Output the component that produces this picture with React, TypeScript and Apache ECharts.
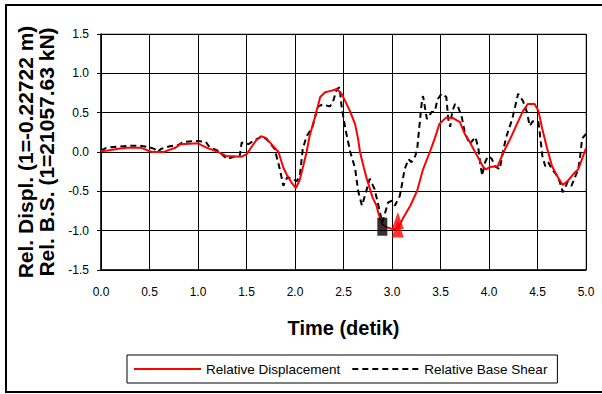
import React, { useEffect, useRef } from "react";
import * as echarts from "echarts";

const xTicks = { min: 0, max: 5, interval: 0.5 };
const yTicks = { min: -1.5, max: 1.5, interval: 0.5 };

const dispTime = [
  0.0, 0.07, 0.18, 0.27, 0.41, 0.48, 0.53, 0.65, 0.69, 0.76, 0.82, 1.0, 1.03, 1.1, 1.19, 1.29, 1.45,
  1.5, 1.55, 1.6, 1.65, 1.7, 1.77, 1.83, 1.88, 1.92, 1.97, 2.01, 2.05, 2.08, 2.12, 2.15, 2.21, 2.26,
  2.31, 2.38, 2.43, 2.48, 2.52, 2.57, 2.62, 2.65, 2.67, 2.71, 2.74, 2.8, 2.84, 2.86, 2.9, 2.95, 3.01,
  3.06, 3.11, 3.19, 3.26, 3.32, 3.39, 3.44, 3.49, 3.56, 3.63, 3.7, 3.75, 3.8, 3.87, 3.94, 3.97, 4.01,
  4.09, 4.15, 4.22, 4.29, 4.35, 4.4, 4.47, 4.51, 4.55, 4.6, 4.65, 4.71, 4.76, 4.81, 4.87, 4.92, 5.0,
];
const dispValue = [
  0.01, 0.02, 0.04, 0.055, 0.055, 0.02, 0.0, 0.0, 0.02, 0.05, 0.1, 0.11, 0.09, 0.05, 0.01, -0.05, -0.06,
  -0.03, 0.06, 0.15, 0.2, 0.18, 0.08, 0.0, -0.2, -0.3, -0.4, -0.46, -0.35, -0.2, 0.0, 0.2, 0.46, 0.7,
  0.76, 0.78, 0.8, 0.74, 0.64, 0.51, 0.35, 0.17, 0.0, -0.2, -0.34, -0.58, -0.68, -0.78, -0.92, -0.96, -0.98,
  -0.98, -0.85, -0.68, -0.49, -0.22, 0.0, 0.17, 0.36, 0.44, 0.43, 0.38, 0.23, 0.13, -0.03, -0.19, -0.22, -0.19,
  -0.18, 0.0, 0.17, 0.36, 0.52, 0.61, 0.61, 0.52, 0.29, 0.04, -0.18, -0.32, -0.42, -0.37, -0.28, -0.22, 0.05,
];

const shearTime = [
  0.0, 0.05, 0.1, 0.2, 0.3, 0.4, 0.5, 0.55, 0.58, 0.62, 0.7, 0.8, 0.85, 1.0, 1.08, 1.12, 1.2, 1.3, 1.37,
  1.43, 1.45, 1.52, 1.57, 1.66, 1.71, 1.79, 1.84, 1.88, 1.92, 1.97, 2.02, 2.05, 2.08, 2.12, 2.18, 2.21,
  2.24, 2.28, 2.36, 2.39, 2.43, 2.46, 2.48, 2.52, 2.57, 2.62, 2.65, 2.69, 2.72, 2.77, 2.82, 2.86, 2.9,
  2.96, 3.0, 3.03, 3.08, 3.1, 3.13, 3.17, 3.2, 3.24, 3.26, 3.27, 3.29, 3.31, 3.32, 3.36, 3.41, 3.44, 3.47,
  3.51, 3.56, 3.58, 3.6, 3.62, 3.65, 3.68, 3.72, 3.75, 3.8, 3.86, 3.89, 3.91, 3.93, 3.96, 3.99, 4.03,
  4.06, 4.11, 4.15, 4.18, 4.24, 4.27, 4.3, 4.35, 4.39, 4.42, 4.45, 4.51, 4.53, 4.55, 4.58, 4.61, 4.65,
  4.7, 4.73, 4.76, 4.78, 4.81, 4.85, 4.88, 4.92, 4.94, 4.96, 5.0,
];
const shearValue = [
  0.02, 0.05, 0.06, 0.07, 0.08, 0.08, 0.06, 0.04, 0.0, 0.04, 0.07, 0.09, 0.13, 0.14, 0.13, 0.06, 0.02, -0.09, -0.06,
  -0.05, 0.12, 0.1, 0.14, 0.2, 0.16, 0.04, -0.2, -0.43, -0.32, -0.34, -0.37, -0.3, 0.04, 0.2, 0.32, 0.46,
  0.58, 0.6, 0.58, 0.63, 0.8, 0.82, 0.58, 0.29, 0.0, -0.21, -0.49, -0.68, -0.56, -0.34, -0.47, -0.68, -0.9,
  -0.64, -0.62, -0.68, -0.56, -0.43, -0.22, -0.09, -0.13, -0.05, 0.04, 0.17, 0.42, 0.67, 0.71, 0.42, 0.51, 0.51, 0.67,
  0.74, 0.7, 0.42, 0.32, 0.51, 0.61, 0.58, 0.44, 0.25, 0.1, 0.19, 0.05, -0.15, -0.3, -0.13, -0.05, -0.09,
  -0.18, -0.22, 0.04, 0.2, 0.42, 0.58, 0.74, 0.65, 0.51, 0.33, 0.39, 0.38, 0.17, -0.05, -0.18, -0.13, -0.22,
  -0.3, -0.38, -0.51, -0.47, -0.38, -0.43, -0.34, -0.22, -0.05, 0.17, 0.23,
];

const shearPeak = [[2.9, -0.95]];
const dispPeak = [
  [3.06, -0.87],
  [3.06, -0.98],
];

const dispName = "Relative Displacement";
const shearName = "Relative Base Shear";
const xTitle = "Time (detik)";
const yTitle = "Rel. Displ. (1=-0.22722 m)\nRel. B.S. (1=21057.63 kN)";

const FONT = "'Liberation Sans', Arial, sans-serif";

const zip = (t: number[], v: number[]) => t.map((x, i) => [x, v[i]]);

export default function App() {
  const ref = useRef<HTMLDivElement>(null);
  useEffect(() => {
    if (!ref.current) return;
    const chart = echarts.init(ref.current, null, { renderer: "svg" });
    chart.setOption({
      animation: false,
      backgroundColor: "#fff",
      grid: {
        left: 101,
        top: 34,
        width: 485,
        height: 236,
        show: true,
        borderColor: "#808080",
        borderWidth: 1,
        containLabel: false,
      },
      xAxis: {
        type: "value",
        min: xTicks.min,
        max: xTicks.max,
        interval: xTicks.interval,
        name: xTitle,
        nameLocation: "middle",
        nameGap: 48,
        nameTextStyle: { fontSize: 20, fontWeight: "bold", color: "#000", fontFamily: FONT },
        axisLine: { show: true, onZero: false, lineStyle: { color: "#000", width: 1.5 } },
        axisTick: { show: false },
        axisLabel: {
          color: "#000",
          fontSize: 12,
          fontFamily: FONT,
          margin: 16,
          formatter: (v: number) => v.toFixed(1),
        },
        splitLine: { show: true, lineStyle: { color: "#000", width: 1 } },
      },
      yAxis: {
        type: "value",
        min: yTicks.min,
        max: yTicks.max,
        interval: yTicks.interval,
        name: yTitle,
        nameLocation: "middle",
        nameRotate: 90,
        nameGap: 44,
        nameTextStyle: {
          fontSize: 21,
          fontWeight: "bold",
          color: "#000",
          fontFamily: FONT,
          lineHeight: 21,
          align: "center",
        },
        axisLine: { show: true, lineStyle: { color: "#000", width: 1.5 } },
        axisTick: { show: true, inside: false, length: 4, lineStyle: { color: "#000" } },
        axisLabel: {
          color: "#000",
          fontSize: 12,
          fontFamily: FONT,
          margin: 12,
          formatter: (v: number) => v.toFixed(1),
        },
        splitLine: { show: true, lineStyle: { color: "#000", width: 1 } },
      },
      legend: {
        data: [dispName, shearName],
        left: 127,
        top: 355,
        padding: [7, 10, 7, 6],
        itemWidth: 67,
        itemHeight: 12,
        itemGap: 11,
        borderColor: "#000",
        borderWidth: 1,
        borderRadius: 0,
        itemStyle: { opacity: 0 },
        textStyle: { fontSize: 13.5, color: "#000", fontFamily: FONT },
      },
      graphic: [
        {
          type: "rect",
          shape: { x: 6, y: 5, width: 640, height: 387 },
          style: { fill: "none", stroke: "#000", lineWidth: 2 },
          silent: true,
        },
      ],
      series: [
        {
          name: dispName,
          type: "line",
          data: zip(dispTime, dispValue),
          symbol: "none",
          showSymbol: false,
          lineStyle: { color: "#ff0000", width: 2 },
          itemStyle: { color: "#ff0000" },
          z: 3,
        },
        {
          name: shearName,
          type: "line",
          data: zip(shearTime, shearValue),
          symbol: "none",
          showSymbol: false,
          lineStyle: { color: "#000", width: 2, type: [6, 4] },
          itemStyle: { color: "#000" },
          z: 2,
        },
        {
          name: "shearPeak",
          type: "scatter",
          data: shearPeak,
          symbol: "rect",
          symbolSize: [10, 18],
          itemStyle: { color: "#000" },
          z: 4,
        },
        {
          name: "dispPeak",
          type: "scatter",
          data: dispPeak,
          symbol: "triangle",
          symbolSize: [12, 17],
          itemStyle: { color: "#ff0000" },
          z: 5,
        },
      ],
    });
    return () => chart.dispose();
  }, []);
  return (
    <div
      ref={ref}
      style={{ position: "absolute", left: 0, top: 0, width: 602, height: 394 }}
    />
  );
}
